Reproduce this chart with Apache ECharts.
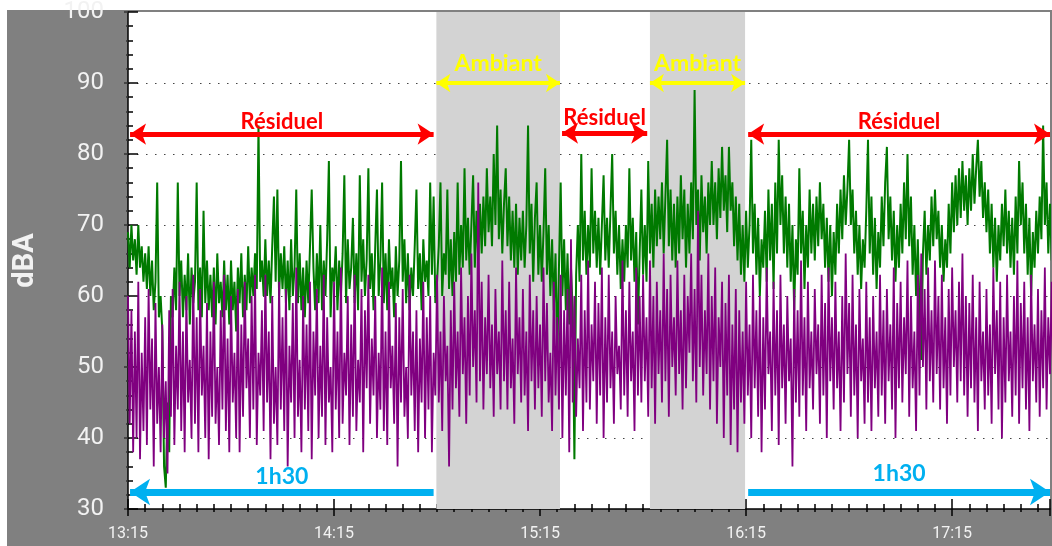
<!DOCTYPE html>
<html>
<head>
<meta charset="utf-8">
<script src="https://cdn.jsdelivr.net/npm/echarts@6/dist/echarts.min.js"></script>
<style>html,body{margin:0;padding:0;background:#fff;}#c{width:1052px;height:546px;}</style>
</head>
<body>
<div id="c"></div>
<script>
// time axis: minutes after 13:15, one reading every 30 s
const startLabel = '13:15';
const stepMin = 0.5;
const xTicksMin = [0, 60, 120, 180, 240]; // 13:15 ... 17:15
const yTicks = [30, 40, 50, 60, 70, 80, 90, 100];

// green series (upper level, dBA)
const green = [
69,64,70,65,68,63,70,64,67,62, 66,61,67,60,65,58,62,76,57,60,
55,36,33,45,38,60,57,64,58,76, 60,65,57,63,58,66,56,64,59,62,
76,58,64,57,72,59,65,58,63,57, 64,56,66,59,62,57,65,58,63,56,
65,58,62,55,64,59,66,57,63,58, 67,59,64,60,66,61,84,62,65,60,
68,60,65,59,67,74,62,75,60,66, 61,67,59,65,58,68,60,64,75,59,
66,58,64,57,65,59,67,75,64,58, 66,59,70,58,65,60,68,79,57,64,
62,67,58,65,60,66,77,59,68,61, 64,71,59,66,58,77,62,68,60,65,
78,61,66,58,67,75,60,65,76,59, 66,58,68,61,64,57,67,60,65,79,
62,68,59,66,58,64,60,67,75,61, 66,58,68,62,65,60,76,63,74,59,
62,67,76,60,66,63,75,61,68,60, 69,62,76,63,70,64,78,65,71,63,
70,77,64,72,65,73,66,74,67,78, 69,74,67,80,70,84,68,75,66,73,
78,67,74,65,72,64,73,63,71,65, 72,64,70,84,66,73,62,71,76,63,
70,62,69,78,63,70,60,68,58,66, 51,64,76,60,68,58,66,56,64,58,
37,63,70,62,80,65,72,63,70,64, 78,66,72,64,71,63,70,77,65,71,
64,72,80,66,72,63,70,61,68,62, 70,64,78,65,71,62,69,56,66,75,
63,70,62,79,66,73,64,75,67,74, 68,76,66,74,82,67,75,65,73,64,
74,66,77,68,75,64,73,66,76,68, 89,70,75,65,77,69,74,66,76,70,
79,70,76,68,78,71,81,72,77,69, 81,72,76,67,74,65,73,63,70,62,
72,64,70,82,66,73,63,71,60,68, 64,72,62,75,65,73,61,76,66,82,
70,77,66,74,64,73,62,70,58,68, 63,78,66,72,61,70,64,75,66,73,
65,74,67,76,68,73,64,71,62,70, 60,69,63,73,66,75,68,77,70,75,
82,70,75,66,72,63,70,61,68,64, 72,82,66,74,63,71,61,69,64,74,
67,76,81,68,74,65,72,62,70,64, 73,66,76,68,80,67,74,63,70,60,
68,58,51,66,72,63,70,65,74,67, 75,68,72,64,70,62,68,64,73,66,
76,69,77,70,78,71,79,72,77,70, 78,72,80,73,78,82,74,79,71,76,
69,75,66,73,64,71,62,70,65,73, 67,75,66,72,64,71,63,74,66,79,
70,76,66,73,63,71,60,69,64,72, 66,74,68,84,70,76,66,73,65,71
];

// purple series (lower level, dBA)
const purple = [
60,42,58,38,55,40,62,37,52,41, 57,39,61,44,54,36,59,42,50,38,
56,40,48,35,58,43,61,39,53,44, 62,41,55,38,60,45,51,40,63,42,
57,38,61,46,53,40,59,37,55,43, 62,42,50,39,58,44,63,41,54,38,
60,45,52,40,61,38,56,43,62,47, 54,40,60,44,63,39,52,46,58,41,
63,45,55,37,60,42,50,39,62,44, 57,41,61,36,53,45,59,40,64,43,
51,38,60,44,56,41,62,37,55,46, 61,40,53,43,63,39,57,45,50,38,
62,44,55,40,64,42,52,46,60,39, 56,43,63,41,51,45,61,38,58,47,
63,42,54,46,60,40,52,44,64,41, 55,39,62,47,53,42,59,36,57,45,
61,43,50,40,63,46,55,41,58,38, 54,45,62,40,57,44,60,38,52,46,
63,45,55,41,60,48,53,36,58,44, 62,47,55,43,64,49,57,42,60,46,
66,50,58,45,76,48,62,44,57,49, 63,47,56,43,61,49,55,44,65,48,
58,44,62,47,54,42,64,49,57,45, 61,46,55,41,63,48,58,44,60,47,
56,43,64,48,59,45,52,41,62,46, 57,44,63,40,58,46,61,38,68,45,
60,43,54,47,63,41,58,45,65,44, 56,48,62,42,59,46,64,40,57,45,
63,47,55,42,60,49,53,44,65,46, 58,43,62,48,55,41,64,46,60,45,
63,48,57,43,65,47,60,42,62,49, 58,45,66,48,61,43,63,50,57,46,
65,49,58,44,63,47,60,52,66,48, 61,45,72,50,63,46,58,49,66,44,
60,48,64,42,57,50,62,40,59,46, 63,39,56,44,61,38,58,45,55,42,
62,46,56,40,63,47,58,43,60,38, 57,44,64,49,55,41,62,46,58,39,
63,47,56,42,60,48,54,36,61,45, 58,43,65,46,57,41,62,47,55,44,
61,49,56,42,63,46,59,40,64,48, 57,44,62,47,55,41,60,45,66,49,
59,43,63,46,56,40,61,48,54,42, 62,45,57,41,60,47,55,43,63,46,
58,42,61,48,56,44,64,40,59,47, 62,45,57,49,65,43,60,47,55,41,
63,46,66,50,61,44,64,48,58,45, 65,49,60,44,63,47,57,42,61,46,
64,50,58,45,62,48,66,46,60,43, 59,47,63,45,57,41,62,48,55,44,
61,46,56,42,64,49,58,44,62,40, 57,45,63,48,55,43,60,46,65,42,
59,47,62,44,57,41,63,48,56,45, 61,43,58,47,64,44,57,49,62,46
];

// shaded "Ambiant" periods (minutes after 13:15)
const ambiantPeriods = [[89.8, 125.8], [152, 179.7]];
// "Résiduel" periods
const residuelPeriods = [[0.6, 89.0], [126.4, 151.2], [180.6, 268.5]];
// "1h30" spans
const spans1h30 = [[0.6, 89.0], [180.6, 268.5]];
const labelResiduel = 'Résiduel';
const labelAmbiant = 'Ambiant';
const label1h30 = '1h30';

const xMax = 268.5;

function toClock(v) {
  const p = startLabel.split(':');
  const t = Math.round(+p[0] * 60 + +p[1] + v);
  const h = Math.floor(t / 60), m = t % 60;
  return h + ':' + (m < 10 ? '0' : '') + m;
}
const gData = green.map((v, i) => [i * stepMin, v]);
const pData = purple.map((v, i) => [i * stepMin, v]);

function arrowLine(x1, x2, y, color, width, sym1, sym2, size, text, fontSize, dist) {
  return [
    { coord: [x1, y], symbol: sym1, symbolSize: size,
      lineStyle: { color: color, width: width, type: 'solid' },
      label: { show: true, formatter: text, position: 'insideMiddleTop', distance: dist,
               color: color, fontWeight: 'bold', fontSize: fontSize, fontFamily: 'Lato' } },
    { coord: [x2, y], symbol: sym2, symbolSize: size }
  ];
}

const markLines = [];
residuelPeriods.forEach((p, i) => markLines.push(arrowLine(p[0], p[1], i === 1 ? 82.95 : 82.8, '#ff0000', 5, 'arrow', 'arrow', [16, 16], labelResiduel, 22, i === 1 ? 4 : 1)));
ambiantPeriods.forEach(p => markLines.push(arrowLine(p[0], p[1], 90, '#ffff00', 4, 'arrow', 'arrow', [14, 14], labelAmbiant, 23, 8)));
markLines.push(arrowLine(spans1h30[0][0], spans1h30[0][1], 32.4, '#00b0f0', 7, 'arrow', 'none', [20, 20], label1h30, 23, 4));
markLines.push(arrowLine(spans1h30[1][0], spans1h30[1][1], 32.4, '#00b0f0', 7, 'none', 'arrow', [20, 20], label1h30, 23, 7));

const chart = echarts.init(document.getElementById('c'), null, { renderer: 'canvas' });
const axisCommon = {
  type: 'value', min: 0, max: xMax, interval: 60,
};
chart.setOption({
  animation: false,
  backgroundColor: '#ffffff',
  graphic: [{ type: 'rect', z: -100, zlevel: 0, silent: true,
    shape: { x: 7, y: 10, width: 1045, height: 536 }, style: { fill: '#808080' } }],
  grid: { left: 128, right: 2, top: 11, bottom: 37, show: true, backgroundColor: '#ffffff', borderWidth: 0 },
  xAxis: [
    Object.assign({}, axisCommon, {
      position: 'bottom',
      axisLine: { show: true, onZero: false, lineStyle: { color: '#000', width: 1.5 } },
      axisTick: { show: true, inside: true, length: 10, lineStyle: { color: '#000', width: 1.5 } },
      minorTick: { show: true, splitNumber: 12, length: 5, lineStyle: { color: '#000', width: 1.5 } },
      splitLine: { show: false },
      axisLabel: { color: '#f2f2f2', fontSize: 16, fontFamily: 'Roboto', margin: 17, formatter: toClock,
                   customValues: xTicksMin }
    }),
    Object.assign({}, axisCommon, {
      position: 'bottom', gridIndex: 0,
      axisLine: { show: false, onZero: false },
      axisTick: { show: true, inside: false, length: 7, lineStyle: { color: '#000', width: 1.5 } },
      minorTick: { show: true, splitNumber: 12, length: 3, lineStyle: { color: '#000', width: 1.5 } },
      splitLine: { show: false },
      axisLabel: { show: false }
    })
  ],
  yAxis: [
    {
      type: 'value', min: 30, max: 100, interval: 10, position: 'left',
      name: 'dBA', nameLocation: 'middle', nameRotate: 90, nameGap: 88,
      nameTextStyle: { color: '#f2f2f2', fontSize: 29, fontWeight: 'bold', fontFamily: 'Roboto' },
      axisLine: { show: true, lineStyle: { color: '#000', width: 1.5 } },
      axisTick: { show: true, inside: true, length: 10, lineStyle: { color: '#000', width: 1.5 } },
      minorTick: { show: true, splitNumber: 5, length: 5, lineStyle: { color: '#000', width: 1.5 } },
      splitLine: { show: true, showMinLine: false, showMaxLine: false,
                   lineStyle: { color: '#444', width: 1.2, type: [1.5, 7.5] } },
      axisLabel: { color: '#f2f2f2', fontSize: 24, fontFamily: 'Roboto', margin: 24,
                   customValues: yTicks }
    },
    {
      type: 'value', min: 30, max: 100, interval: 10, position: 'right',
      axisLine: { show: false },
      axisTick: { show: true, inside: true, length: 4, lineStyle: { color: '#333', width: 1.5 } },
      minorTick: { show: true, splitNumber: 5, length: 2, lineStyle: { color: '#333', width: 1.5 } },
      splitLine: { show: false },
      axisLabel: { show: false }
    }
  ],
  series: [
    {
      type: 'line', z: 1, data: [], silent: true,
      markArea: { silent: true, itemStyle: { color: '#d3d3d3', opacity: 1 },
        data: ambiantPeriods.map(p => [{ xAxis: p[0] }, { xAxis: p[1] }]) }
    },
    {
      name: 'green', type: 'line', z: 2, data: gData, showSymbol: false, symbol: 'none',
      lineStyle: { color: '#007a00', width: 2 }, itemStyle: { color: '#007a00' }
    },
    {
      name: 'purple', type: 'line', z: 3, data: pData, showSymbol: false, symbol: 'none',
      lineStyle: { color: '#800080', width: 1.8 }, itemStyle: { color: '#800080' },
      markLine: { silent: true, animation: false, data: markLines }
    }
  ]
});
</script>
</body>
</html>
